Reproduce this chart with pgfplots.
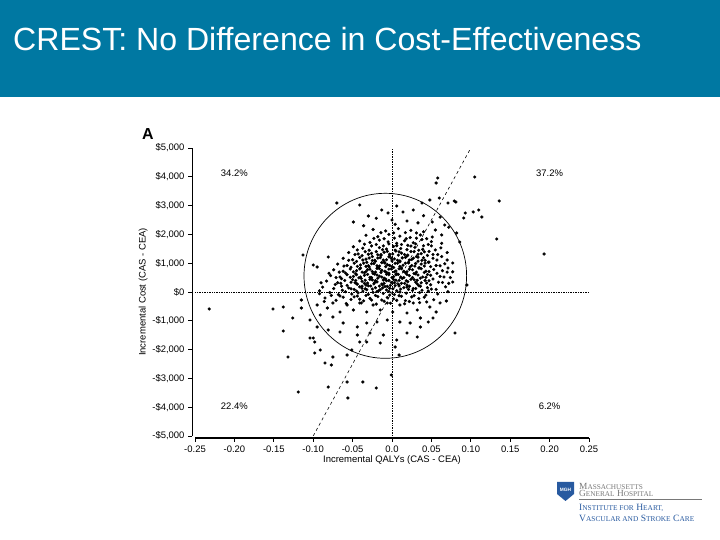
\documentclass[border=0pt]{standalone}
\usepackage{pgfplots}
\pgfplotsset{compat=1.18}
\usepackage{fontspec}
\setmainfont{Liberation Sans}
\newfontfamily\serifsc{Liberation Serif}
\definecolor{hdr}{RGB}{0,120,162}
\definecolor{mghblue}{RGB}{40,90,160}
\definecolor{mghgray}{RGB}{120,120,120}
\newcommand\fsc[2]{{\fontsize{9.6}{9.6}\selectfont #1}{\fontsize{7.4}{7.4}\selectfont #2}}
\newcommand\gsc[2]{{\fontsize{9.4}{9.4}\selectfont #1}{\fontsize{7.3}{7.3}\selectfont #2}}
\begin{document}
\begin{tikzpicture}
\begin{scope}[x=1bp,y=1bp]
\fill[white] (0,0) rectangle (720,540);
\fill[hdr] (0,443) rectangle (720,540);
\node[anchor=base west, inner sep=0, text=white, font=\fontsize{32.2}{32.2}\selectfont] at (13,489) {CREST: No Difference in Cost-Effectiveness};
\node[font=\fontsize{16}{16}\selectfont\bfseries] at (148,406) {A};
% logo
\fill[mghblue] (557,58) -- (574,58) -- (574,46) -- (565.5,39) -- (557,46) -- cycle;
\node[text=white, font=\fontsize{4.8}{4.8}\selectfont\bfseries, inner sep=0] at (565.5,50) {MGH};
\node[anchor=west, inner sep=0, text=mghgray, font=\serifsc] at (579,54) {\gsc{M}{ASSACHUSETTS}};
\node[anchor=west, inner sep=0, text=mghgray, font=\serifsc] at (579,46.2) {\gsc{G}{ENERAL} \gsc{H}{OSPITAL}};
\draw[mghgray, line width=0.5pt] (579,40.5) -- (702,40.5);
\node[anchor=west, inner sep=0, text=mghblue, font=\serifsc] at (579,32) {\fsc{I}{NSTITUTE FOR} \fsc{H}{EART,}};
\node[anchor=west, inner sep=0, text=mghblue, font=\serifsc] at (579,21.5) {\fsc{V}{ASCULAR AND} \fsc{S}{TROKE} \fsc{C}{ARE}};
\end{scope}
\begin{axis}[
  at={(195bp,104bp)}, anchor=south west, scale only axis,
  width=394bp, height=288bp,
  xmin=-0.25, xmax=0.25, ymin=-5000, ymax=5000,
  axis x line*=bottom, axis y line*=left,
  axis x line shift=2bp, axis y line shift=3bp,
  x axis line style={line width=1.4pt, -},
  y axis line style={line width=0.8pt, -},
  tick align=outside, major tick length=4bp,
  tick style={black, line width=0.8pt},
  xtick={-0.25,-0.2,-0.15,-0.1,-0.05,0,0.05,0.1,0.15,0.2,0.25},
  xticklabels={-0.25,-0.20,-0.15,-0.10,-0.05,0.0,0.05,0.10,0.15,0.20,0.25},
  ytick={-5000,-4000,-3000,-2000,-1000,0,1000,2000,3000,4000,5000},
  yticklabels={{-\$5,000},{-\$4,000},{-\$3,000},{-\$2,000},{-\$1,000},{\$0},{\$1,000},{\$2,000},{\$3,000},{\$4,000},{\$5,000}},
  tick label style={font=\fontsize{9.5}{10}\selectfont},
  label style={font=\fontsize{9.5}{10}\selectfont},
  xlabel={Incremental QALYs (CAS - CEA)},
  ylabel={Incremental Cost (CAS - CEA)},
  xlabel style={yshift=3bp},
  ylabel style={yshift=-2bp},
]
\addplot[densely dotted, line width=0.7pt, no marks] coordinates {(-0.254,0) (0.25,0)};
\addplot[densely dotted, line width=0.7pt, no marks] coordinates {(0,-5050) (0,5000)};
\addplot[dashed, line width=0.6pt, no marks] coordinates {(-0.1,-5000) (0.1,5000)};
\draw[line width=0.7pt] (axis cs:-0.0085,562) ellipse [x radius=81.3bp, y radius=82.5bp];
\node[font=\fontsize{9.5}{10}\selectfont] at (axis cs:-0.2,4130) {34.2\%};
\node[font=\fontsize{9.5}{10}\selectfont] at (axis cs:0.2,4130) {37.2\%};
\node[font=\fontsize{9.5}{10}\selectfont] at (axis cs:-0.2,-3960) {22.4\%};
\node[font=\fontsize{9.5}{10}\selectfont] at (axis cs:0.2,-3960) {6.2\%};
\addplot[only marks, mark=*, mark size=1.4pt, black] coordinates {
(0.058,3958)(0.056,3785)(0.105,3993)(0.136,3160)(-0.070,3090)(-0.041,3021)(0.006,2986)(-0.013,2847)(0.079,3160)(0.081,3125)(0.071,3090)(0.060,3264)(0.048,3194)(0.038,3090)(0.103,2778)(0.110,2847)(0.114,2604)(0.093,2743)(0.091,2569)(0.133,1840)(0.193,1319)(-0.113,1285)(0.095,243)(0.027,2847)(0.014,2778)(-0.049,2430)(-0.030,2639)(-0.005,2743)(0.019,2465)(0.051,2430)(0.067,2326)(0.082,2049)(0.086,1736)(0.055,2153)(-0.081,1215)(-0.100,937)(-0.095,868)(0.077,1007)(0.070,1111)(0.071,833)(0.077,347)
(-0.232,-590)(-0.151,-590)(-0.138,-521)(-0.126,-903)(-0.115,-278)(-0.115,-556)(-0.138,-1354)(-0.132,-2257)(-0.119,-3472)(-0.100,-1597)(-0.098,-1736)(-0.104,-1597)(-0.091,-2014)(-0.098,-2118)(-0.085,-2465)(-0.077,-2535)(-0.075,-2257)(-0.081,-3299)(-0.057,-3125)(-0.056,-3680)(-0.037,-3125)(-0.020,-3333)(-0.057,-2188)(-0.051,-2014)(-0.041,-1736)(-0.032,-1736)(-0.015,-1771)(0.004,-1910)(0.009,-2188)(-0.001,-2882)(0.032,-1562)(0.080,-1424)(0.056,-694)(0.036,-903)(0.046,-1042)(0.069,-313)(0.019,-1424)(0.006,-1667)(-0.011,-1493)(-0.028,-1424)(-0.044,-1493)(-0.066,-1389)(-0.081,-1319)(-0.095,-1215)(-0.104,-972)(-0.091,-799)(-0.075,-868)(-0.062,-1076)(-0.044,-1215)(-0.032,-1076)(-0.019,-1042)(-0.006,-972)(0.010,-1042)(0.023,-1076)(0.036,-1215)(0.052,-903)(0.048,-521)(0.032,-625)(0.019,-729)(0.001,-694)(-0.015,-625)(-0.032,-694)(-0.049,-625)(-0.066,-694)(-0.082,-556)(-0.095,-451)(-0.075,-382)(-0.057,-451)(-0.041,-382)(-0.024,-451)(-0.006,-382)(0.010,-451)(0.027,-382)(0.044,-347)(0.061,-382)
(-0.085,-210)(-0.071,-290)(-0.062,-180)(-0.052,-260)(-0.044,-140)(-0.036,-310)(-0.028,-220)(-0.021,-120)(-0.013,-280)(-0.006,-190)(0.002,-240)(0.009,-130)(0.017,-300)(0.025,-170)(0.034,-230)(0.043,-110)(0.053,-270)
(-0.092,-60)(-0.079,-20)(-0.068,-90)(-0.059,10)(-0.051,-70)(-0.043,-30)(-0.037,30)(-0.030,-80)(-0.024,-10)(-0.017,40)(-0.011,-50)(-0.004,20)(0.003,-90)(0.010,0)(0.018,-40)(0.026,50)(0.035,-20)(0.046,30)(0.058,-70)(0.071,10)
(-0.088,170)(-0.074,120)(-0.064,200)(-0.055,140)(-0.048,90)(-0.041,180)(-0.034,110)(-0.027,210)(-0.021,150)(-0.015,80)(-0.009,190)(-0.003,130)(0.004,220)(0.011,100)(0.019,170)(0.027,120)(0.036,200)(0.045,150)(0.056,90)(0.068,180)
(-0.083,380)(-0.069,320)(-0.060,400)(-0.052,340)(-0.045,290)(-0.038,370)(-0.031,310)(-0.025,420)(-0.019,350)(-0.013,280)(-0.007,390)(-0.001,330)(0.005,410)(0.012,300)(0.020,360)(0.028,430)(0.037,320)(0.047,390)(0.059,340)(0.072,300)
(-0.078,570)(-0.066,520)(-0.057,600)(-0.049,540)(-0.042,490)(-0.035,580)(-0.028,510)(-0.022,620)(-0.016,550)(-0.010,480)(-0.004,600)(0.002,530)(0.008,610)(0.015,500)(0.022,570)(0.030,630)(0.039,520)(0.049,580)(0.061,540)(0.074,500)
(-0.074,770)(-0.062,720)(-0.053,800)(-0.045,740)(-0.038,690)(-0.031,780)(-0.025,710)(-0.019,820)(-0.013,750)(-0.007,680)(-0.001,800)(0.005,730)(0.012,810)(0.019,700)(0.026,770)(0.034,830)(0.043,720)(0.053,780)(0.064,740)(0.077,700)
(-0.069,970)(-0.057,920)(-0.048,1000)(-0.040,940)(-0.033,890)(-0.026,980)(-0.019,910)(-0.013,1020)(-0.006,950)(0.000,880)(0.007,1000)(0.014,930)(0.021,1010)(0.029,900)(0.037,970)(0.046,1030)(0.056,920)(0.067,980)
(-0.062,1170)(-0.050,1120)(-0.041,1200)(-0.033,1140)(-0.025,1090)(-0.018,1180)(-0.011,1110)(-0.004,1220)(0.003,1150)(0.010,1080)(0.017,1200)(0.025,1130)(0.033,1210)(0.042,1100)(0.052,1170)(0.063,1230)
(-0.055,1370)(-0.043,1320)(-0.034,1400)(-0.026,1340)(-0.018,1290)(-0.010,1380)(-0.003,1310)(0.005,1420)(0.012,1350)(0.020,1280)(0.028,1400)(0.037,1330)(0.047,1410)(0.058,1300)(0.070,1370)
(-0.049,1570)(-0.037,1520)(-0.026,1600)(-0.016,1540)(-0.007,1490)(0.002,1580)(0.011,1510)(0.020,1620)(0.029,1550)(0.039,1480)(0.050,1600)(0.062,1530)
(-0.041,1770)(-0.028,1720)(-0.016,1800)(-0.005,1740)(0.006,1690)(0.016,1780)(0.027,1710)(0.038,1820)(0.050,1750)(0.063,1690)
(-0.033,1970)(-0.018,1920)(-0.004,2000)(0.010,1940)(0.023,1890)(0.036,1980)(0.051,1910)
(-0.024,2170)(-0.008,2120)(0.008,2200)(0.024,2140)(0.040,2090)
(-0.063,60)(-0.045,30)(-0.032,80)(-0.019,20)(-0.007,70)(0.006,40)(0.021,90)(0.038,60)
(-0.072,260)(-0.057,230)(-0.044,270)(-0.033,240)(-0.023,280)(-0.012,250)(-0.002,230)(0.008,270)(0.019,240)(0.032,280)(0.049,250)
(-0.064,460)(-0.050,430)(-0.039,470)(-0.028,440)(-0.018,480)(-0.008,450)(0.002,430)(0.013,470)(0.024,440)(0.036,480)(0.052,450)
(-0.059,660)(-0.046,630)(-0.035,670)(-0.024,640)(-0.014,680)(-0.004,650)(0.006,630)(0.017,670)(0.028,640)(0.041,680)(0.057,650)
(-0.052,860)(-0.040,830)(-0.029,870)(-0.018,840)(-0.008,880)(0.002,850)(0.012,830)(0.023,870)(0.035,840)(0.049,880)
(-0.045,1060)(-0.032,1030)(-0.021,1070)(-0.010,1040)(0.000,1080)(0.010,1050)(0.021,1030)(0.033,1070)(0.047,1040)
(-0.038,1260)(-0.025,1230)(-0.014,1270)(-0.003,1240)(0.008,1280)(0.019,1250)(0.031,1230)(0.045,1270)
(-0.066,-140)(-0.048,-170)(-0.033,-120)(-0.018,-160)(-0.003,-110)(0.012,-150)(0.028,-130)(0.041,-180)
(-0.058,-400)(-0.039,-380)(-0.020,-420)(-0.002,-390)(0.016,-410)(0.035,-370)
(-0.052,110)(-0.038,130)(-0.025,100)(-0.012,140)(0.001,110)(0.015,150)(0.030,120)(0.050,100)
(-0.065,300)(-0.047,320)(-0.035,300)(-0.022,330)(-0.010,300)(0.003,320)(0.016,300)(0.030,340)(0.044,310)(0.064,330)
(-0.071,500)(-0.053,510)(-0.040,520)(-0.026,500)(-0.013,520)(0.000,500)(0.011,520)(0.026,500)(0.043,510)(0.066,520)
(-0.067,690)(-0.049,700)(-0.033,710)(-0.021,690)(-0.009,720)(0.003,700)(0.015,720)(0.031,690)(0.047,710)(0.070,690)
(-0.061,900)(-0.044,890)(-0.030,910)(-0.016,900)(-0.003,920)(0.010,890)(0.025,920)(0.041,900)(0.061,910)
(-0.055,1100)(-0.037,1110)(-0.022,1100)(-0.007,1120)(0.007,1100)(0.022,1110)(0.038,1100)(0.057,1110)
(-0.047,1300)(-0.030,1310)(-0.014,1300)(0.001,1320)(0.016,1300)(0.033,1310)(0.052,1300)
(-0.044,1460)(-0.029,1450)(-0.012,1470)(0.004,1450)(0.019,1470)(0.034,1450)(0.055,1460)
(-0.035,1660)(-0.020,1650)(-0.004,1670)(0.012,1650)(0.030,1670)(0.046,1650)
(-0.023,1860)(-0.010,1850)(0.003,1870)(0.018,1850)(0.031,1870)(0.044,1850)
(-0.014,2060)(0.002,2050)(0.017,2060)(0.031,2050)
(-0.036,2300)(0.004,2350)(0.033,2400)(-0.020,2560)(0.040,2650)(0.000,2500)(0.061,2600)(0.072,2250)(0.063,1980)
(-0.090,320)(-0.086,-330)(-0.080,650)(-0.092,40)(-0.077,-120)
(-0.038,200)(-0.030,215)(-0.016,205)(-0.006,195)(0.009,210)(0.022,200)(0.034,220)
(-0.046,400)(-0.034,410)(-0.021,395)(-0.011,415)(-0.004,400)(0.009,405)(0.018,390)(0.032,410)(0.042,400)
(-0.045,600)(-0.031,610)(-0.019,590)(-0.007,615)(0.005,600)(0.019,610)(0.033,590)(0.045,605)
(-0.041,800)(-0.028,790)(-0.016,810)(-0.004,795)(0.009,805)(0.022,790)(0.037,810)
(-0.036,1000)(-0.023,990)(-0.009,1005)(0.004,995)(0.017,1000)(0.030,990)(0.042,1005)
(-0.029,1180)(-0.015,1190)(-0.001,1170)(0.013,1185)(0.027,1175)(0.040,1190)
(-0.020,1400)(-0.006,1410)(0.009,1395)(0.024,1405)(0.041,1395)
(-0.011,1600)(0.006,1610)(0.024,1595)(0.040,1605)
(-0.026,-280)(-0.010,-320)(0.006,-290)(0.022,-330)(-0.041,-250)
};
\end{axis}
\end{tikzpicture}
\end{document}
